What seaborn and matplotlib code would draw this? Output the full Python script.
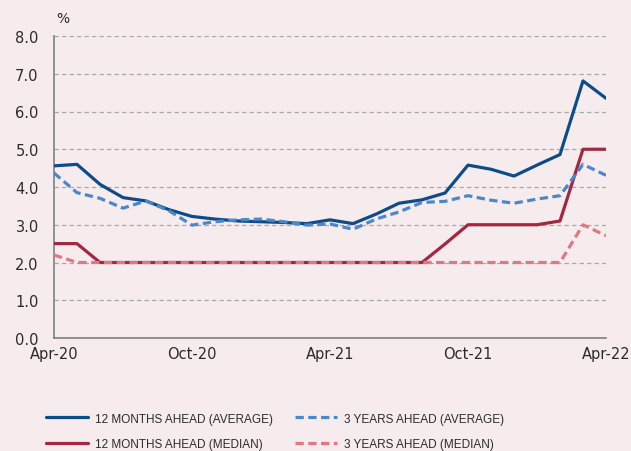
import matplotlib
matplotlib.use("Agg")
import matplotlib.pyplot as plt
import seaborn as sns
import pandas as pd
import numpy as np

months = ["Apr-20", "May-20", "Jun-20", "Jul-20", "Aug-20", "Sep-20", "Oct-20", "Nov-20", "Dec-20",
          "Jan-21", "Feb-21", "Mar-21", "Apr-21", "May-21", "Jun-21", "Jul-21", "Aug-21", "Sep-21",
          "Oct-21", "Nov-21", "Dec-21", "Jan-22", "Feb-22", "Mar-22", "Apr-22"]
avg_12m = [4.56, 4.60, 4.07, 3.72, 3.63, 3.40, 3.22, 3.15, 3.10, 3.08, 3.06, 3.03, 3.13,
           3.03, 3.28, 3.57, 3.66, 3.84, 4.58, 4.47, 4.29, 4.58, 4.86, 6.81, 6.35]
med_12m = [2.5, 2.5, 2.0, 2.0, 2.0, 2.0, 2.0, 2.0, 2.0, 2.0, 2.0, 2.0, 2.0,
           2.0, 2.0, 2.0, 2.0, 2.49, 3.0, 3.0, 3.0, 3.0, 3.10, 5.0, 5.0]
avg_3y = [4.37, 3.85, 3.70, 3.44, 3.63, 3.37, 2.99, 3.08, 3.13, 3.15, 3.08, 2.99, 3.02,
          2.88, 3.15, 3.34, 3.59, 3.62, 3.77, 3.65, 3.57, 3.68, 3.77, 4.60, 4.31]
med_3y = [2.2, 2.0, 2.0, 2.0, 2.0, 2.0, 2.0, 2.0, 2.0, 2.0, 2.0, 2.0, 2.0,
          2.0, 2.0, 2.0, 2.0, 2.0, 2.0, 2.0, 2.0, 2.0, 2.0, 3.0, 2.71]
series_names = ["12 MONTHS AHEAD (AVERAGE)", "12 MONTHS AHEAD (MEDIAN)",
                "3 YEARS AHEAD (AVERAGE)", "3 YEARS AHEAD (MEDIAN)"]
xtick_labels = ["Apr-20", "Oct-20", "Apr-21", "Oct-21", "Apr-22"]
ytick_values = [0, 1, 2, 3, 4, 5, 6, 7, 8]

bg = "#F7ECED"
colors = ["#0D4C89", "#A3273F", "#4A88CB", "#E07884"]
styles = ["solid", "solid", "dashed", "dashed"]

sns.set_theme(style="white")
plt.rcParams["font.family"] = ["DejaVu Sans"]

fig = plt.figure(figsize=(6.31, 4.52), dpi=100, facecolor=bg)
ax = fig.add_axes([54 / 631, 1 - 339 / 452, (606 - 54) / 631, (339 - 37) / 452])
ax.set_facecolor(bg)

idx = np.arange(len(months))
data = [avg_12m, med_12m, avg_3y, med_3y]
handles = []
for vals, name, col, st in zip(data, series_names, colors, styles):
    df = pd.DataFrame({"m": idx, "v": vals})
    sns.lineplot(data=df, x="m", y="v", ax=ax, color=col, lw=2.3, label=name,
                 legend=False, zorder=3)
    ln = ax.lines[-1]
    if st == "dashed":
        ln.set_dashes((2.6, 1.4))
    handles.append(ln)

ax.set_xlim(0, len(months) - 1)
ax.set_ylim(0, 8)
ax.set_yticks(ytick_values)
ax.set_yticklabels([f"{v:.1f}" for v in ytick_values])
tick_pos = [months.index(t) for t in xtick_labels]
ax.set_xticks(tick_pos)
ax.set_xticklabels(xtick_labels)
ax.set_xlabel("")
ax.set_ylabel("")

for y in ytick_values[1:]:
    ax.axhline(y, color="#A8A8A8", lw=0.9, ls=(0, (3.5, 2.5)), zorder=1)

for s in ["top", "right"]:
    ax.spines[s].set_visible(False)
for s in ["left", "bottom"]:
    ax.spines[s].set_color("#808080")
    ax.spines[s].set_linewidth(1.2)

ax.tick_params(axis="y", length=0, pad=11, labelsize=10.5, labelcolor="#2b2b2b")
ax.tick_params(axis="x", direction="in", length=5, width=1, color="#808080",
               pad=6, labelsize=10.5, labelcolor="#2b2b2b")

fig.text(63 / 631, 1 - 19 / 452, "%", fontsize=10, color="#2b2b2b",
         ha="center", va="center")

leg = fig.legend(handles=handles, labels=series_names, ncol=2,
                 loc="upper left", bbox_to_anchor=(35 / 631, 1 - 403 / 452),
                 frameon=False, handlelength=3.55, handletextpad=0.6,
                 columnspacing=1.9, labelspacing=1.12,
                 prop={"family": ["Liberation Sans"], "size": 8.5})
for t in leg.get_texts():
    t.set_color("#2b2b2b")

fig.savefig("out.png", dpi=100, facecolor=bg)
